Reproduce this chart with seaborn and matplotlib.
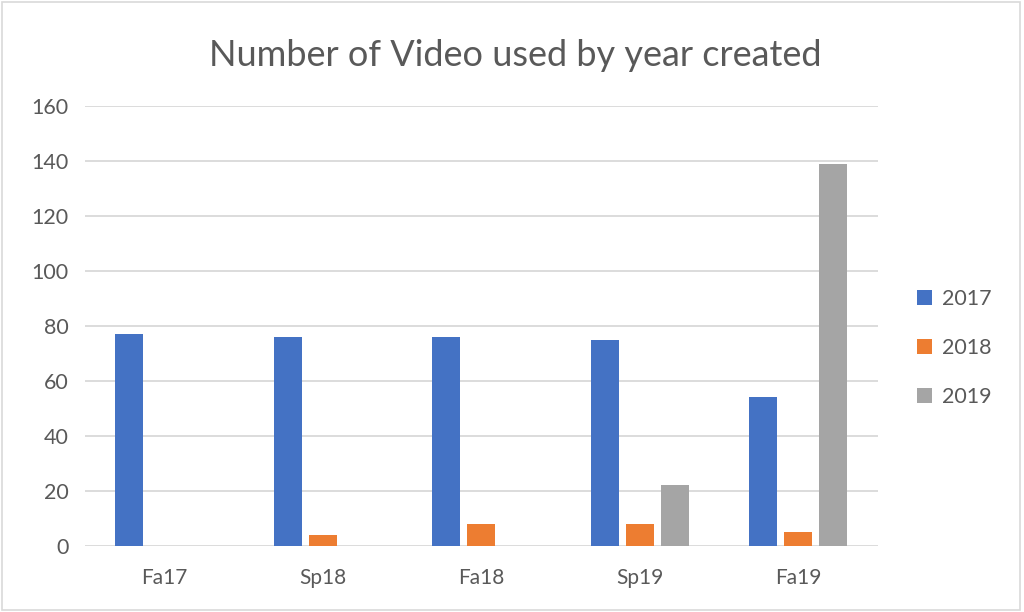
import pandas as pd
import seaborn as sns
import matplotlib.pyplot as plt
from matplotlib.patches import Rectangle

# data
terms = ['Fa17', 'Sp18', 'Fa18', 'Sp19', 'Fa19']
years = ['2017', '2018', '2019']
videos_2017 = [77, 76, 76, 75, 54]
videos_2018 = [0, 4, 8, 8, 5]
videos_2019 = [0, 0, 0, 22, 139]

colors = ['#4472C4', '#ED7D31', '#A5A5A5']
txt = '#595959'

df = pd.DataFrame({
    'term': terms * 3,
    'year': [y for y in years for _ in terms],
    'count': videos_2017 + videos_2018 + videos_2019,
})

sns.set_style('white')
plt.rcParams['font.family'] = ['Lato', 'DejaVu Sans']

fig = plt.figure(figsize=(10.24, 6.12), dpi=100)
ax = fig.add_axes([0.083, 0.108, 0.774, 0.719])

sns.barplot(data=df, x='term', y='count', hue='year', hue_order=years,
            palette=colors, width=0.66, gap=0.2, saturation=1,
            edgecolor='none', ax=ax)

ax.set_ylim(0, 160)
ax.set_yticks(range(0, 161, 20))
ax.set_xlim(-0.5, 4.5)
ax.grid(axis='y', color='#d9d9d9', linewidth=1.3)
ax.set_axisbelow(True)
for s in ax.spines.values():
    s.set_visible(False)
ax.tick_params(axis='y', length=0, labelsize=15.5, colors=txt, pad=12)
ax.tick_params(axis='x', length=0, labelsize=15, colors=txt, pad=16)
ax.set_xlabel('')
ax.set_ylabel('')

# title is centred on the whole picture, not on the plot area
fig.suptitle('Number of Video used by year created', x=0.503, y=0.91,
             va='center', fontsize=26, color=txt)

leg = ax.legend(loc='center left', bbox_to_anchor=(1.025, 0.45), frameon=False,
                fontsize=15.5, labelcolor=txt, handlelength=0.7,
                handleheight=0.7, handletextpad=0.45, labelspacing=1.35)

# thin outline around the whole picture
fig.patches.append(Rectangle((0.002, 0.003), 0.994, 0.994, transform=fig.transFigure,
                             fill=False, edgecolor='#d9d9d9', linewidth=1.2))

fig.savefig('out.png', dpi=100, facecolor='white')
